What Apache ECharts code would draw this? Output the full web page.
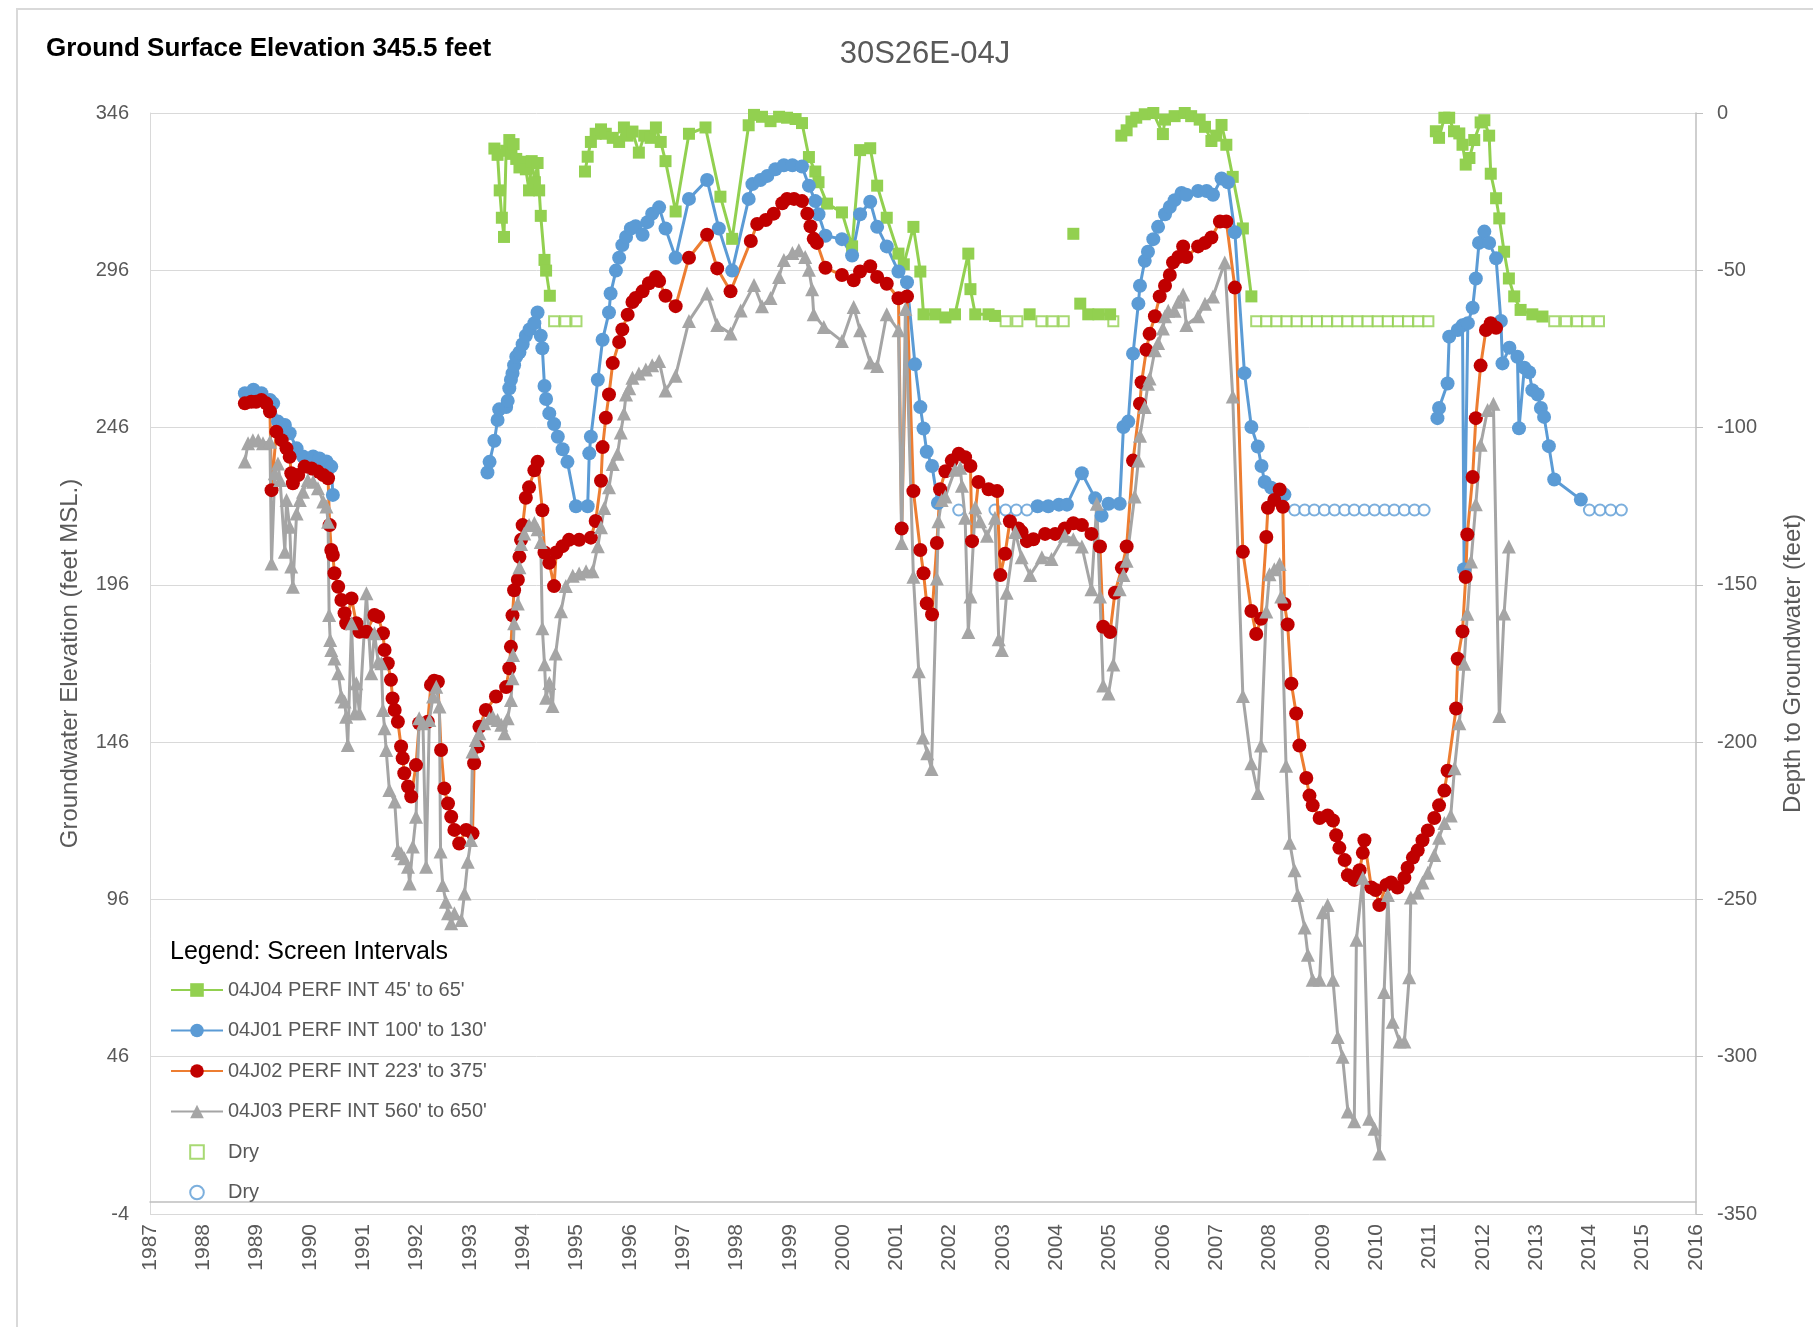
<!DOCTYPE html>
<html><head><meta charset="utf-8">
<script src="https://cdn.jsdelivr.net/npm/echarts@6/dist/echarts.min.js"></script>
<style>html,body{margin:0;padding:0;background:#fff}#c{width:1813px;height:1327px}</style>
</head><body><div id="c"></div><script>
// ---- Data: [decimal year, groundwater elevation (ft MSL)] ----
const j04Segments = [
 [[1993.46,334.7],[1993.52,332.7],[1993.56,321.4],[1993.60,312.7],[1993.64,306.6],[1993.68,334.0],[1993.74,337.4],[1993.78,333.0],[1993.82,336.1],[1993.87,331.4],[1993.93,328.7],[1994.00,330.5],[1994.05,328.1],[1994.11,321.4],[1994.16,330.7],[1994.22,324.0],[1994.27,330.1],[1994.30,321.4],[1994.33,313.3],[1994.40,299.3],[1994.43,295.9],[1994.50,287.9]],
 [[1995.16,327.4],[1995.21,332.1],[1995.27,336.8],[1995.36,339.4],[1995.46,340.8],[1995.55,339.4],[1995.68,338.1],[1995.80,336.8],[1995.89,341.4],[1995.96,338.8],[1996.05,340.1],[1996.17,333.4],[1996.27,338.8],[1996.39,338.1],[1996.49,341.4],[1996.58,336.8],[1996.67,330.7],[1996.86,314.7],[1997.11,339.4],[1997.42,341.4],[1997.70,319.4],[1997.92,306.0],[1998.23,342.1],[1998.33,345.4],[1998.48,344.8],[1998.64,343.4],[1998.80,344.8],[1998.95,344.5],[1999.11,344.1],[1999.23,342.8],[1999.36,332.0],[1999.48,327.4],[1999.54,324.0],[1999.70,317.2],[1999.98,314.4],[2000.17,303.6],[2000.32,334.2],[2000.51,334.8],[2000.64,322.9],[2000.82,312.7],[2001.04,301.3],[2001.14,297.9],[2001.32,309.8],[2001.45,295.6],[2001.51,282.0],[2001.73,282.0],[2001.92,281.0],[2002.10,282.0],[2002.35,301.3],[2002.39,290.0],[2002.48,282.0],[2002.73,282.0],[2002.85,281.5]],
 [[2003.50,282.0]],
 [[2004.32,307.6]],
 [[2004.45,285.4],[2004.60,282.0],[2004.79,282.0],[2005.01,282.0]],
 [[2005.22,338.8],[2005.32,340.5],[2005.41,343.3],[2005.50,344.5],[2005.66,345.6],[2005.82,346.0],[2006.00,339.3],[2006.04,343.9],[2006.22,345.0],[2006.41,346.0],[2006.53,345.0],[2006.69,343.9],[2006.79,341.6],[2006.91,337.1],[2007.00,338.8],[2007.10,342.2],[2007.19,335.9],[2007.31,325.7],[2007.50,309.3],[2007.66,287.7]],
 [[2011.12,340.2],[2011.18,338.1],[2011.28,344.5],[2011.37,344.5],[2011.46,340.2],[2011.56,339.5],[2011.62,335.9],[2011.68,329.6],[2011.75,331.7],[2011.84,337.4],[2011.96,343.0],[2012.03,343.7],[2012.12,338.8],[2012.15,326.7],[2012.25,318.9],[2012.31,312.5],[2012.40,301.9],[2012.49,293.4],[2012.59,287.7],[2012.71,283.4],[2012.93,282.0],[2013.12,281.3]]
];
const j01Segments = [
 [[1988.78,256.9],[1988.94,258.0],[1989.09,256.9],[1989.25,254.8],[1989.31,253.7],[1989.40,247.9],[1989.53,246.8],[1989.62,244.2],[1989.75,239.4],[1989.87,236.8],[1990.06,236.8],[1990.18,236.2],[1990.31,235.2],[1990.40,233.6],[1990.43,224.6]],
 [[1993.33,231.7],[1993.37,235.1],[1993.46,241.8],[1993.52,248.4],[1993.55,251.8],[1993.68,252.5],[1993.71,254.5],[1993.74,258.5],[1993.77,261.2],[1993.80,263.2],[1993.83,265.8],[1993.87,268.5],[1993.93,269.9],[1993.99,272.5],[1994.05,275.2],[1994.12,277.2],[1994.21,279.2],[1994.27,282.6],[1994.33,275.2],[1994.36,271.2],[1994.40,259.2],[1994.43,255.1],[1994.49,250.5],[1994.58,247.1],[1994.65,243.1],[1994.74,239.1],[1994.83,235.1],[1994.99,221.0],[1995.21,221.0],[1995.24,237.8],[1995.27,243.1],[1995.40,261.2],[1995.49,273.9],[1995.61,282.6],[1995.64,288.6],[1995.74,295.9],[1995.80,300.0],[1995.86,304.0],[1995.93,306.6],[1996.02,309.3],[1996.11,310.0],[1996.24,307.3],[1996.33,311.3],[1996.42,314.0],[1996.55,316.0],[1996.67,309.3],[1996.86,300.0],[1997.11,318.7],[1997.45,324.7],[1997.67,309.3],[1997.92,295.9],[1998.23,318.7],[1998.30,323.4],[1998.45,324.7],[1998.58,326.0],[1998.73,328.1],[1998.89,329.4],[1999.05,329.4],[1999.23,329.0],[1999.36,322.9],[1999.48,318.0],[1999.54,313.8],[1999.67,307.0],[1999.98,305.9],[2000.17,300.7],[2000.32,313.8],[2000.51,317.8],[2000.64,309.8],[2000.82,303.6],[2001.04,295.6],[2001.20,292.2],[2001.35,266.1],[2001.45,252.5],[2001.51,245.7],[2001.57,238.3],[2001.67,233.8],[2001.78,222.0]],
 [[2003.65,221.0],[2003.85,221.0],[2004.05,221.5],[2004.20,221.5],[2004.48,231.5],[2004.73,223.5],[2004.85,218.0],[2004.98,221.8],[2005.19,221.8],[2005.26,246.2],[2005.35,247.9],[2005.44,269.5],[2005.54,285.4],[2005.57,291.1],[2005.66,299.0],[2005.72,301.9],[2005.82,305.9],[2005.91,309.8],[2006.04,313.8],[2006.13,316.1],[2006.22,318.3],[2006.35,320.6],[2006.44,320.0],[2006.66,321.2],[2006.82,321.2],[2006.94,320.0],[2007.10,325.2],[2007.22,324.0],[2007.35,308.1],[2007.53,263.3],[2007.66,246.2],[2007.78,240.0],[2007.85,233.8],[2007.91,228.7],[2008.03,226.9],[2008.19,225.2],[2008.28,224.7]],
 [[2011.15,249.0],[2011.18,252.2],[2011.34,260.0],[2011.37,274.9],[2011.53,277.0],[2011.62,278.5],[2011.65,201.0],[2011.72,279.2],[2011.81,284.1],[2011.87,293.4],[2011.93,304.7],[2012.03,308.3],[2012.12,304.7],[2012.25,299.8],[2012.34,279.9],[2012.37,266.4],[2012.50,271.4],[2012.65,268.5],[2012.68,245.8],[2012.78,265.0],[2012.87,263.6],[2012.93,257.9],[2013.03,256.5],[2013.09,252.2],[2013.15,249.4],[2013.24,240.1],[2013.34,229.5],[2013.84,223.1]]
];
const j02Values = [[1988.78,253.7],[1988.90,254.2],[1988.99,254.2],[1989.09,254.8],[1989.18,253.7],[1989.25,251.1],[1989.28,226.1],[1989.37,244.7],[1989.47,242.0],[1989.56,239.4],[1989.62,236.7],[1989.65,231.5],[1989.68,228.3],[1989.78,230.9],[1989.90,233.6],[1990.03,233.0],[1990.15,232.0],[1990.25,230.9],[1990.34,229.9],[1990.37,215.0],[1990.40,207.1],[1990.43,205.5],[1990.46,199.7],[1990.53,195.4],[1990.59,191.2],[1990.65,187.0],[1990.68,183.8],[1990.78,191.7],[1990.87,183.8],[1990.93,181.1],[1991.06,181.1],[1991.21,186.4],[1991.28,185.9],[1991.37,180.6],[1991.40,175.3],[1991.46,171.1],[1991.52,165.8],[1991.55,159.9],[1991.59,156.2],[1991.65,152.5],[1991.71,144.6],[1991.74,140.9],[1991.77,136.1],[1991.84,131.9],[1991.90,128.7],[1991.99,138.7],[1992.05,152.0],[1992.21,152.5],[1992.27,164.2],[1992.33,165.5],[1992.40,165.2],[1992.46,143.5],[1992.52,131.3],[1992.59,126.5],[1992.65,122.3],[1992.71,118.1],[1992.80,113.8],[1992.93,118.1],[1993.05,117.0],[1993.08,139.3],[1993.15,144.6],[1993.18,150.9],[1993.30,156.2],[1993.49,160.5],[1993.68,163.5],[1993.74,169.5],[1993.77,176.3],[1993.80,186.3],[1993.83,194.3],[1993.90,197.6],[1993.93,204.9],[1993.96,210.3],[1993.99,215.0],[1994.05,223.7],[1994.11,227.0],[1994.21,232.4],[1994.27,235.1],[1994.36,219.7],[1994.40,206.3],[1994.49,203.0],[1994.58,195.6],[1994.62,206.3],[1994.74,208.3],[1994.86,210.3],[1995.05,210.3],[1995.27,211.0],[1995.36,216.3],[1995.46,229.1],[1995.49,239.8],[1995.55,249.1],[1995.61,256.5],[1995.68,266.5],[1995.80,273.2],[1995.86,277.2],[1995.96,281.9],[1996.05,285.9],[1996.11,287.2],[1996.24,289.3],[1996.36,291.9],[1996.49,293.9],[1996.55,292.6],[1996.67,287.9],[1996.86,284.6],[1997.11,300.0],[1997.45,307.3],[1997.64,296.6],[1997.89,289.3],[1998.27,305.3],[1998.39,310.7],[1998.55,312.0],[1998.70,314.0],[1998.86,317.3],[1998.95,318.7],[1999.08,318.7],[1999.23,318.0],[1999.33,314.0],[1999.39,310.0],[1999.45,306.0],[1999.51,304.7],[1999.67,296.8],[1999.98,294.5],[2000.20,292.8],[2000.32,295.6],[2000.51,297.3],[2000.64,293.9],[2000.82,291.7],[2001.04,287.1],[2001.10,213.9],[2001.20,287.7],[2001.32,225.8],[2001.45,207.1],[2001.51,199.7],[2001.57,190.1],[2001.67,186.6],[2001.76,209.3],[2001.82,226.4],[2001.92,232.1],[2002.04,235.5],[2002.17,237.7],[2002.29,236.6],[2002.39,233.8],[2002.42,209.9],[2002.54,228.7],[2002.73,226.4],[2002.89,225.8],[2002.95,199.1],[2003.04,205.9],[2003.13,216.2],[2003.29,213.9],[2003.35,212.8],[2003.45,209.9],[2003.57,210.5],[2003.79,212.2],[2003.98,212.2],[2004.16,213.9],[2004.32,215.6],[2004.48,215.0],[2004.66,212.2],[2004.82,208.2],[2004.88,182.7],[2005.01,181.0],[2005.10,193.5],[2005.23,201.4],[2005.32,208.2],[2005.44,235.5],[2005.57,253.6],[2005.60,260.4],[2005.69,270.7],[2005.75,275.8],[2005.85,281.4],[2005.94,287.7],[2006.04,291.1],[2006.13,294.5],[2006.19,298.5],[2006.29,300.2],[2006.38,303.6],[2006.44,300.2],[2006.66,303.6],[2006.79,304.7],[2006.91,306.4],[2007.07,311.5],[2007.19,311.5],[2007.35,290.5],[2007.50,206.5],[2007.66,187.7],[2007.75,180.4],[2007.84,185.2],[2007.94,211.2],[2007.97,220.5],[2008.09,223.0],[2008.19,226.3],[2008.25,220.8],[2008.28,189.9],[2008.34,183.4],[2008.41,164.6],[2008.50,155.1],[2008.56,144.9],[2008.69,134.6],[2008.75,129.0],[2008.81,125.9],[2008.94,121.9],[2009.09,122.7],[2009.19,121.1],[2009.25,116.4],[2009.31,112.4],[2009.41,108.5],[2009.47,103.7],[2009.59,102.2],[2009.69,105.3],[2009.75,110.8],[2009.78,114.8],[2009.91,99.8],[2009.99,99.0],[2010.06,94.2],[2010.19,100.6],[2010.28,101.4],[2010.40,99.8],[2010.53,102.9],[2010.59,106.1],[2010.69,109.3],[2010.78,111.6],[2010.87,114.8],[2010.97,117.9],[2011.09,121.9],[2011.18,125.9],[2011.28,130.6],[2011.34,136.9],[2011.50,156.7],[2011.53,172.5],[2011.62,181.2],[2011.68,198.5],[2011.71,212.0],[2011.81,230.3],[2011.87,249.0],[2011.96,265.7],[2012.06,277.0],[2012.15,279.2],[2012.25,277.7]];
const j03Values = [[1988.78,235.2],[1988.84,241.0],[1988.93,242.0],[1989.03,242.0],[1989.12,241.0],[1989.25,241.5],[1989.28,202.8],[1989.34,231.5],[1989.40,234.6],[1989.44,229.3],[1989.53,206.5],[1989.56,223.0],[1989.62,214.5],[1989.65,201.8],[1989.68,195.4],[1989.75,218.7],[1989.81,223.0],[1989.87,225.6],[1989.96,229.3],[1990.06,228.8],[1990.15,226.7],[1990.25,222.5],[1990.31,220.9],[1990.34,216.1],[1990.36,186.4],[1990.38,178.5],[1990.40,175.3],[1990.46,172.6],[1990.53,167.9],[1990.59,160.5],[1990.65,158.9],[1990.68,154.1],[1990.71,145.1],[1990.78,183.8],[1990.84,155.2],[1990.87,164.7],[1990.93,155.2],[1991.06,193.3],[1991.15,167.9],[1991.21,180.6],[1991.28,171.6],[1991.34,171.1],[1991.37,156.2],[1991.40,150.4],[1991.43,143.5],[1991.49,130.8],[1991.59,127.1],[1991.65,111.7],[1991.71,110.7],[1991.77,109.1],[1991.84,106.4],[1991.87,101.1],[1991.93,112.8],[1991.99,122.3],[1992.05,153.6],[1992.12,152.0],[1992.18,106.4],[1992.24,153.0],[1992.31,160.5],[1992.37,163.6],[1992.43,157.3],[1992.45,111.2],[1992.49,100.6],[1992.55,95.3],[1992.59,91.6],[1992.65,88.4],[1992.71,91.6],[1992.84,89.5],[1992.90,97.9],[1992.96,108.0],[1993.02,114.9],[1993.05,143.0],[1993.11,146.7],[1993.18,148.8],[1993.27,152.0],[1993.37,153.6],[1993.43,154.1],[1993.52,153.0],[1993.59,151.5],[1993.65,148.8],[1993.71,153.6],[1993.77,159.4],[1993.80,166.3],[1993.81,173.7],[1993.83,183.8],[1993.90,190.1],[1993.93,201.6],[1993.96,209.0],[1994.02,212.3],[1994.11,215.0],[1994.21,215.7],[1994.27,213.7],[1994.33,209.6],[1994.36,182.2],[1994.40,170.8],[1994.43,160.1],[1994.49,164.8],[1994.55,157.5],[1994.61,174.2],[1994.71,187.6],[1994.80,195.6],[1994.93,198.9],[1995.05,199.6],[1995.18,200.3],[1995.30,200.3],[1995.40,208.3],[1995.46,214.3],[1995.52,220.4],[1995.61,227.0],[1995.68,234.4],[1995.77,237.7],[1995.83,244.4],[1995.89,250.5],[1995.93,256.5],[1995.99,258.5],[1996.05,261.8],[1996.17,263.2],[1996.30,264.5],[1996.42,265.8],[1996.55,267.2],[1996.67,257.8],[1996.86,262.5],[1997.11,279.9],[1997.45,288.6],[1997.64,278.6],[1997.89,275.9],[1998.08,283.2],[1998.33,291.3],[1998.48,284.6],[1998.64,287.2],[1998.80,293.9],[1998.89,299.3],[1999.05,301.5],[1999.17,302.4],[1999.29,300.2],[1999.36,296.2],[1999.42,290.0],[1999.45,282.0],[1999.64,278.0],[1999.98,273.5],[2000.20,284.3],[2000.32,276.9],[2000.51,266.7],[2000.64,265.6],[2000.82,282.0],[2001.04,276.9],[2001.10,209.3],[2001.17,283.7],[2001.32,198.6],[2001.42,168.5],[2001.50,147.5],[2001.58,142.5],[2001.66,137.5],[2001.76,198.0],[2001.79,216.2],[2001.85,223.0],[2001.92,224.1],[2002.10,232.6],[2002.20,233.2],[2002.23,227.5],[2002.29,217.3],[2002.35,181.0],[2002.39,192.3],[2002.48,220.7],[2002.57,216.2],[2002.70,211.6],[2002.85,217.3],[2002.92,178.7],[2002.98,175.3],[2003.07,193.5],[2003.23,212.8],[2003.35,204.8],[2003.51,199.1],[2003.73,204.8],[2003.91,204.2],[2004.16,211.6],[2004.32,210.5],[2004.48,208.2],[2004.66,194.6],[2004.76,221.8],[2004.82,192.3],[2004.88,164.0],[2004.98,161.5],[2005.07,170.7],[2005.19,194.6],[2005.26,199.1],[2005.32,203.7],[2005.47,224.1],[2005.54,235.5],[2005.57,243.4],[2005.66,252.5],[2005.72,259.9],[2005.75,261.6],[2005.85,270.6],[2005.91,272.9],[2006.00,277.5],[2006.04,281.4],[2006.10,283.1],[2006.22,283.1],[2006.29,286.0],[2006.38,288.3],[2006.44,278.6],[2006.66,281.4],[2006.79,285.4],[2006.94,287.7],[2007.16,298.5],[2007.31,255.9],[2007.50,160.7],[2007.66,139.3],[2007.78,129.8],[2007.84,144.9],[2007.94,187.5],[2008.00,199.4],[2008.09,201.0],[2008.19,202.6],[2008.22,192.3],[2008.31,138.5],[2008.38,114.0],[2008.47,105.3],[2008.53,97.4],[2008.66,87.1],[2008.72,78.4],[2008.81,70.5],[2008.94,70.5],[2009.00,91.9],[2009.09,94.2],[2009.19,70.5],[2009.28,52.3],[2009.37,46.0],[2009.47,28.6],[2009.59,25.5],[2009.63,83.2],[2009.75,102.9],[2009.87,26.3],[2009.97,23.1],[2010.06,15.2],[2010.15,66.6],[2010.22,97.4],[2010.31,57.1],[2010.44,50.8],[2010.53,50.8],[2010.62,71.3],[2010.65,96.6],[2010.78,98.2],[2010.87,101.4],[2010.97,104.5],[2011.09,110.1],[2011.18,115.6],[2011.28,120.3],[2011.40,122.7],[2011.47,137.7],[2011.56,152.0],[2011.65,170.9],[2011.71,186.8],[2011.78,203.4],[2011.87,221.6],[2011.96,240.5],[2012.09,251.6],[2012.20,253.6],[2012.31,154.3],[2012.40,186.9],[2012.49,208.2]];
const dryJ04Years = [1994.58,1994.79,1995.00,2003.05,2003.27,2003.72,2003.93,2004.14,2005.07,2007.75,2007.94,2008.13,2008.32,2008.51,2008.70,2008.89,2009.08,2009.27,2009.46,2009.65,2009.84,2010.03,2010.22,2010.41,2010.60,2010.79,2010.98,2013.34,2013.56,2013.77,2013.96,2014.18];
const dryJ04Level = 279.8;
const dryJ01Years = [2002.17,2002.85,2003.05,2003.25,2003.45,2008.47,2008.66,2008.84,2009.03,2009.22,2009.41,2009.59,2009.78,2009.97,2010.16,2010.34,2010.53,2010.72,2010.90,2014.00,2014.20,2014.40,2014.60];
const dryJ01Level = 219.8;
const yearTicks = {min:1987, max:2016, step:1};
const elevTicks = {min:-4, max:346, step:50};
const depthTicks = {min:-350, max:0, step:50};
const seriesNames = ["04J04 PERF INT 45' to 65'","04J01 PERF INT 100' to 130'","04J02 PERF INT 223' to 375'","04J03 PERF INT 560' to 650'","Dry","Dry "];

function joinSegments(segs){
  const out=[];
  segs.forEach((s,i)=>{ if(i>0) out.push([s[0][0]-0.01,'-']); s.forEach(p=>out.push(p)); });
  return out;
}
const FONT='"Liberation Sans", Arial, sans-serif';
const labelGray='#595959';
// legend icons with invisible padding so the dry symbols stay small
const squareIcon='path://M-1.5,-1.5L-1.5,-1.5M13.5,13.5L13.5,13.5M0,0L12,0L12,12L0,12Z';
const circleIcon='path://M-1.5,-1.5L-1.5,-1.5M13.5,13.5L13.5,13.5M0,6A6,6 0 1,1 12,6A6,6 0 1,1 0,6Z';
const chart=echarts.init(document.getElementById('c'));
const lineSeries=(name,data,lineColor,markColor,symbol,size)=>({
  name,type:'line',data,symbol,symbolSize:size,showSymbol:true,connectNulls:false,
  lineStyle:{color:lineColor,width:3},itemStyle:{color:markColor},animation:false,silent:true
});
chart.setOption({
  animation:false,
  backgroundColor:'#ffffff',
  grid:{left:150,right:114,top:113,bottom:113,containLabel:false},
  xAxis:{type:'value',min:yearTicks.min,max:yearTicks.max,interval:yearTicks.step,
    axisLine:{show:true,lineStyle:{color:'#BFBFBF',width:1.5}},axisTick:{show:false},splitLine:{show:false},
    axisLabel:{rotate:90,margin:10,color:labelGray,fontSize:21,fontFamily:FONT,formatter:v=>String(v)}},
  yAxis:[
    {type:'value',min:elevTicks.min,max:elevTicks.max,interval:elevTicks.step,position:'left',
     name:'Groundwater Elevation (feet MSL.)',nameLocation:'middle',nameGap:68,
     nameTextStyle:{color:labelGray,fontSize:24,fontFamily:FONT},
     axisLine:{show:true,lineStyle:{color:'#D9D9D9'}},axisTick:{show:false},
     splitLine:{show:true,lineStyle:{color:'#D9D9D9',width:1}},
     axisLabel:{margin:21,color:labelGray,fontSize:20,fontFamily:FONT}},
    {type:'value',min:depthTicks.min,max:depthTicks.max,interval:depthTicks.step,position:'right',
     name:'Depth to Groundwater (feet)',nameLocation:'middle',nameGap:85,nameRotate:90,
     nameTextStyle:{color:labelGray,fontSize:24,fontFamily:FONT},
     axisLine:{show:true,lineStyle:{color:'#BFBFBF',width:1.5}},axisTick:{show:true,length:7,lineStyle:{color:'#BFBFBF'}},
     splitLine:{show:false},
     axisLabel:{margin:21,color:labelGray,fontSize:20,fontFamily:FONT}}
  ],
  legend:{orient:'vertical',left:170,top:980,padding:0,itemWidth:52,itemHeight:17,itemGap:20.5,
    data:[
      {name:seriesNames[0]},{name:seriesNames[1]},{name:seriesNames[2]},{name:seriesNames[3]},
      {name:seriesNames[4],icon:squareIcon},{name:seriesNames[5],icon:circleIcon}
    ],
    textStyle:{color:labelGray,fontSize:20,fontFamily:FONT,lineHeight:20}},
  graphic:[
    {type:'rect',shape:{x:17,y:9,width:1900,height:1500},style:{fill:null,stroke:'#D9D9D9',lineWidth:2},silent:true,z:-10},
    {type:'text',x:46,y:49,style:{text:'Ground Surface Elevation 345.5 feet',font:'bold 26px '+FONT,fill:'#000',textVerticalAlign:'middle'}},
    {type:'text',x:925,y:54,style:{text:'30S26E-04J',font:'31px '+FONT,fill:labelGray,textAlign:'center',textVerticalAlign:'middle'}},
    {type:'text',x:170,y:952,style:{text:'Legend: Screen Intervals',font:'25px '+FONT,fill:'#000',textVerticalAlign:'middle'},z:100}
  ],
  series:[
    lineSeries(seriesNames[0],joinSegments(j04Segments),'#92D050','#92D050','rect',12),
    lineSeries(seriesNames[1],joinSegments(j01Segments),'#5B9BD5','#5B9BD5','circle',14),
    lineSeries(seriesNames[2],j02Values,'#ED7D31','#C00000','circle',14),
    lineSeries(seriesNames[3],j03Values,'#A5A5A5','#A5A5A5','triangle',14),
    {name:seriesNames[4],type:'scatter',symbol:'rect',symbolSize:10,animation:false,silent:true,
     data:dryJ04Years.map(y=>[y,dryJ04Level]),itemStyle:{color:'#ffffff',borderColor:'#92D050',borderWidth:2}},
    {name:seriesNames[5],type:'scatter',symbol:'circle',symbolSize:11,animation:false,silent:true,
     data:dryJ01Years.map(y=>[y,dryJ01Level]),itemStyle:{color:'#ffffff',borderColor:'#5B9BD5',borderWidth:2}}
  ]
});
</script></body></html>
